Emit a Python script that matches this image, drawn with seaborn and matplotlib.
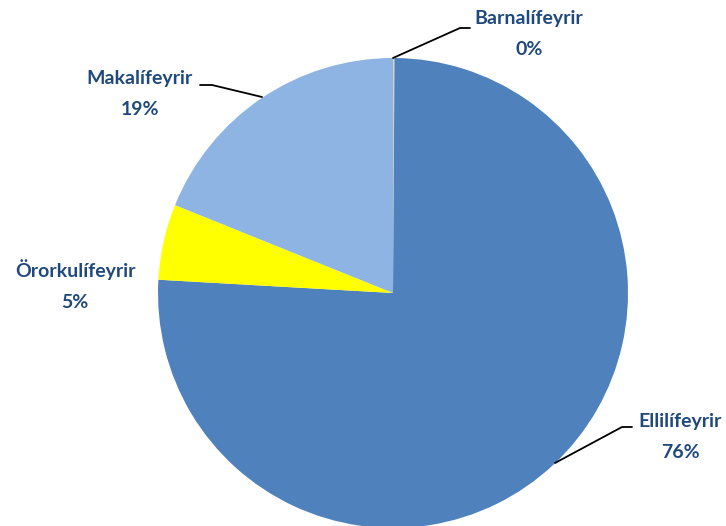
import matplotlib
matplotlib.use("Agg")
import matplotlib.pyplot as plt
import seaborn as sns

# pie data (clockwise from 12 o'clock)
labels = ["Barnalífeyrir", "Ellilífeyrir", "Örorkulífeyrir", "Makalífeyrir"]
values = [0.1, 75.8, 5.2, 18.9]
pct_text = ["0%", "76%", "5%", "19%"]
colors = ["#D9D0B8", "#4F81BD", "#FFFF00", "#8EB4E3"]

sns.set_theme(style="white")
plt.rcParams["font.family"] = ["Lato", "DejaVu Sans"]

fig = plt.figure(figsize=(7.26, 5.26), dpi=100)
ax = fig.add_axes([0, 0, 1, 1])

ax.pie(values, colors=colors, startangle=90, counterclock=False,
       center=(393, 233), radius=235, wedgeprops=dict(linewidth=0),
       frame=True)
ax.set_xlim(0, 726)
ax.set_ylim(0, 526)
ax.set_aspect("equal")
ax.axis("off")

txt_color = "#1F497D"
# label positions (pixel coords) and leader lines
label_pos = [(529, 492), (680, 89), (75, 241), (140, 432)]
leaders = [
    [(393, 468), (460, 498), (470, 498)],
    [(555, 63), (622, 99), (632, 99)],
    None,
    [(262, 429), (212, 441), (200, 441)],
]

for name, pct, pos, ld in zip(labels, pct_text, label_pos, leaders):
    ax.text(pos[0], pos[1], name + "\n" + pct, ha="center", va="center",
            fontsize=14, fontweight="bold", color=txt_color, linespacing=1.95)
    if ld is not None:
        xs = [p[0] for p in ld]
        ys = [p[1] for p in ld]
        ax.plot(xs, ys, color="black", linewidth=1.3)

fig.savefig("out.png", dpi=100)
